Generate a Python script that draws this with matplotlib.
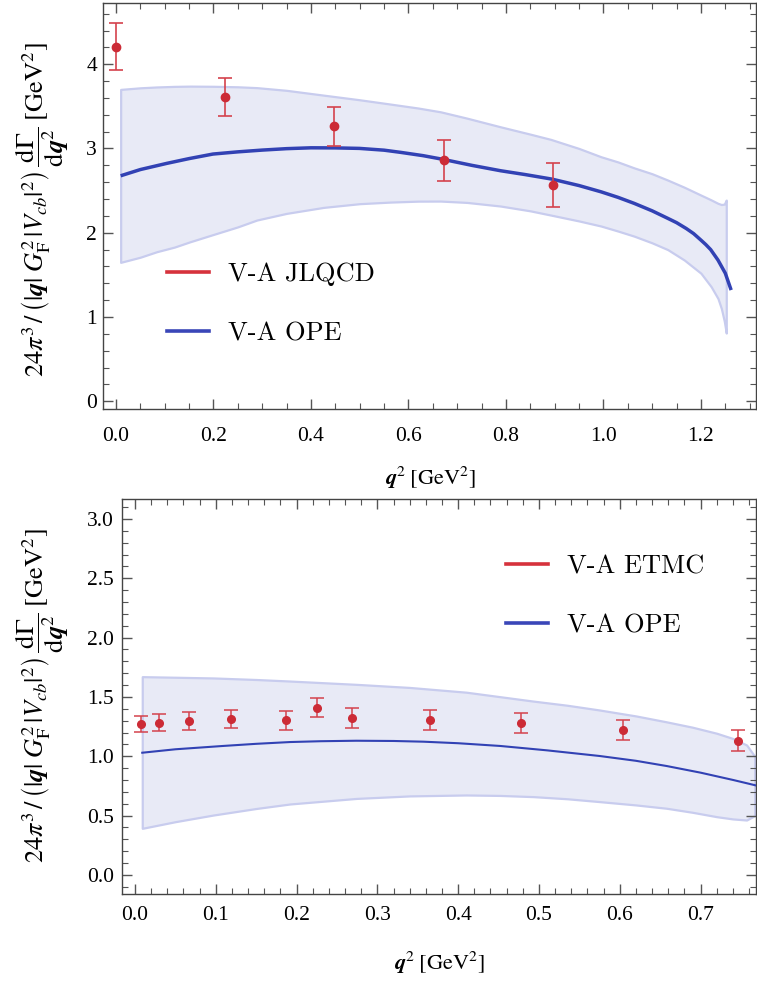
import matplotlib
matplotlib.use("Agg")
import matplotlib.pyplot as plt
from matplotlib.ticker import MultipleLocator, FormatStrFormatter
from matplotlib.lines import Line2D

plt.rcParams['font.family'] = ['Liberation Serif', 'DejaVu Serif']
plt.rcParams['mathtext.fontset'] = 'stix'

# ---------------- top panel data (JLQCD) ----------------
top_pts_x = [0.0, 0.224, 0.448, 0.672, 0.896]
top_pts_y = [4.21, 3.61, 3.262, 2.859, 2.562]
top_pts_err = [0.28, 0.23, 0.235, 0.245, 0.26]

top_curve_x = [0.0096, 0.05, 0.104, 0.15, 0.199, 0.25, 0.30, 0.35, 0.40, 0.45, 0.4995,
               0.55, 0.584, 0.63, 0.671, 0.73, 0.789, 0.84, 0.894, 0.95, 0.995, 1.03,
               1.063, 1.10, 1.132, 1.15, 1.17, 1.185, 1.20, 1.21, 1.22, 1.235, 1.25, 1.262]
top_curve_y = [2.676, 2.75, 2.823, 2.88, 2.934, 2.96, 2.981, 2.998, 3.008, 3.007, 3.001,
               2.98, 2.954, 2.915, 2.871, 2.80, 2.736, 2.69, 2.637, 2.56, 2.486, 2.42,
               2.349, 2.26, 2.171, 2.12, 2.05, 1.99, 1.913, 1.86, 1.80, 1.676, 1.52, 1.32]

top_band_x = [0.0096, 0.05, 0.0836, 0.12, 0.152, 0.2, 0.25, 0.289, 0.35, 0.426, 0.5,
              0.563, 0.62, 0.666, 0.72, 0.789, 0.85, 0.892, 0.95, 0.995, 1.03, 1.063,
              1.10, 1.132, 1.166, 1.20, 1.221, 1.235, 1.242, 1.248, 1.252]
top_band_hi = [3.701, 3.72, 3.73, 3.737, 3.740, 3.738, 3.732, 3.722, 3.69, 3.633, 3.578,
               3.527, 3.48, 3.435, 3.36, 3.257, 3.17, 3.108, 3.0, 2.902, 2.84, 2.77,
               2.70, 2.625, 2.54, 2.447, 2.39, 2.349, 2.335, 2.34, 2.388]
top_band_lo = [1.649, 1.71, 1.775, 1.83, 1.893, 1.98, 2.07, 2.151, 2.23, 2.301, 2.345,
               2.364, 2.375, 2.376, 2.36, 2.317, 2.26, 2.21, 2.14, 2.08, 2.02, 1.96,
               1.88, 1.80, 1.676, 1.52, 1.36, 1.22, 1.10, 0.95, 0.81]

# ---------------- bottom panel data (ETMC) ----------------
bot_pts_x = [0.0074, 0.0297, 0.0668, 0.119, 0.187, 0.225, 0.2686, 0.365, 0.4777, 0.604, 0.746]
bot_pts_y = [1.272, 1.283, 1.297, 1.311, 1.303, 1.41, 1.323, 1.309, 1.278, 1.221, 1.131]
bot_pts_err = [0.067, 0.07, 0.073, 0.076, 0.08, 0.078, 0.083, 0.085, 0.086, 0.088, 0.09]

bot_curve_x = [0.009, 0.05, 0.109, 0.15, 0.192, 0.23, 0.274, 0.32, 0.357, 0.40, 0.452,
               0.51, 0.575, 0.62, 0.658, 0.70, 0.7405, 0.77]
bot_curve_y = [1.03, 1.059, 1.087, 1.105, 1.12, 1.127, 1.131, 1.129, 1.123, 1.11, 1.087,
               1.05, 1.0025, 0.962, 0.918, 0.862, 0.80, 0.752]

bot_band_x = [0.009, 0.05, 0.097, 0.15, 0.1918, 0.2744, 0.34, 0.41, 0.452, 0.493,
              0.535, 0.575, 0.62, 0.658, 0.69, 0.72, 0.74, 0.757, 0.767]
bot_band_hi = [1.671, 1.666, 1.66, 1.647, 1.634, 1.606, 1.58, 1.54, 1.502, 1.465,
               1.43, 1.390, 1.34, 1.290, 1.245, 1.194, 1.15, 1.095, 1.0]
bot_band_lo = [0.393, 0.449, 0.505, 0.56, 0.598, 0.645, 0.666, 0.674, 0.670, 0.66,
               0.642, 0.618, 0.59, 0.562, 0.528, 0.491, 0.472, 0.463, 0.50]

legend_top = ['V-A JLQCD', 'V-A OPE']
legend_bot = ['V-A ETMC', 'V-A OPE']

RED = '#cc2b36'
RED_BAR = '#d4424d'
BLUE = '#3242b4'
BAND_FACE = '#e8eaf6'
BAND_EDGE = '#c8ccee'
LEG_RED = '#d6323c'
LEG_BLUE = '#3a46b8'

W, H = 757, 981
fig = plt.figure(figsize=(W / 100, H / 100), dpi=100)

def px_axes(l, t, r, b):
    return fig.add_axes([l / W, 1 - b / H, (r - l) / W, (b - t) / H])

ax1 = px_axes(103.3, 2.7, 756, 409.3)
ax2 = px_axes(122.3, 499, 756, 894.3)

ylabel = (r'$24\pi^3\,/\,\left(|\mathbfit{q}|\;G_{\mathrm{F}}^2\,|V_{cb}|^2\right)\,'
          r'\dfrac{\mathrm{d}\Gamma}{\mathrm{d}\mathbfit{q}^2}\;\left[\mathrm{GeV}^2\right]$')
xlabel = r'$\mathbfit{q}^2\;\left[\mathrm{GeV}^2\right]$'

def style(ax, xpad, ypad):
    for s in ax.spines.values():
        s.set_color('#444444')
        s.set_linewidth(1.0)
    ax.tick_params(which='both', direction='in', top=True, right=True, colors='#555555',
                   labelcolor='black', labelsize=15.5)
    ax.tick_params(which='major', length=7, width=1.0)
    ax.tick_params(which='minor', length=4, width=0.8)
    ax.tick_params(axis='x', pad=xpad)
    ax.tick_params(axis='y', pad=ypad)

# ---- top ----
ax1.fill_between(top_band_x, top_band_lo, top_band_hi, facecolor=BAND_FACE,
                 edgecolor=BAND_EDGE, linewidth=1.6, zorder=1)
ax1.plot(top_curve_x, top_curve_y, color=BLUE, lw=2.5, zorder=3, solid_capstyle='butt')
ax1.errorbar(top_pts_x, top_pts_y, yerr=top_pts_err, fmt='none', ecolor=RED_BAR,
             elinewidth=1.2, capsize=5, capthick=1.2, zorder=4)
ax1.plot(top_pts_x, top_pts_y, 'o', color=RED, ms=6, zorder=5)
ax1.set_xlim(-0.026, 1.313)
ax1.set_ylim(-0.095, 4.73)
ax1.xaxis.set_major_locator(MultipleLocator(0.2))
ax1.xaxis.set_minor_locator(MultipleLocator(0.05))
ax1.yaxis.set_major_locator(MultipleLocator(1))
ax1.yaxis.set_minor_locator(MultipleLocator(0.2))
ax1.xaxis.set_major_formatter(FormatStrFormatter('%.1f'))
ax1.yaxis.set_major_formatter(FormatStrFormatter('%d'))
style(ax1, 13, 4.5)

# ---- bottom ----
ax2.fill_between(bot_band_x, bot_band_lo, bot_band_hi, facecolor=BAND_FACE,
                 edgecolor=BAND_EDGE, linewidth=1.6, zorder=1)
ax2.plot(bot_curve_x, bot_curve_y, color=BLUE, lw=1.5, zorder=3)
ax2.errorbar(bot_pts_x, bot_pts_y, yerr=bot_pts_err, fmt='none', ecolor=RED_BAR,
             elinewidth=1.1, capsize=4.8, capthick=1.1, zorder=4)
ax2.plot(bot_pts_x, bot_pts_y, 'o', color=RED, ms=5.5, zorder=5)
ax2.set_xlim(-0.0157, 0.7686)
ax2.set_ylim(-0.163, 3.168)
ax2.xaxis.set_major_locator(MultipleLocator(0.1))
ax2.xaxis.set_minor_locator(MultipleLocator(0.02))
ax2.yaxis.set_major_locator(MultipleLocator(0.5))
ax2.yaxis.set_minor_locator(MultipleLocator(0.1))
ax2.xaxis.set_major_formatter(FormatStrFormatter('%.1f'))
ax2.yaxis.set_major_formatter(FormatStrFormatter('%.1f'))
style(ax2, 8.5, 6)

# axis labels
fig.text(42 / W, 1 - 210 / H, ylabel, rotation=90, ha='center', va='center', fontsize=19)
fig.text(42 / W, 1 - 696 / H, ylabel, rotation=90, ha='center', va='center', fontsize=19)
fig.text(430 / W, 1 - 478 / H, xlabel, ha='center', va='center', fontsize=16)
fig.text(439 / W, 1 - 963 / H, xlabel, ha='center', va='center', fontsize=16)

# legends
def add_legend(ax, labels, x_px, y_px):
    handles = [Line2D([], [], color=LEG_RED, lw=2.6), Line2D([], [], color=LEG_BLUE, lw=2.6)]
    ax.legend(handles, labels, loc='center left', bbox_to_anchor=(x_px / W, 1 - y_px / H),
              bbox_transform=fig.transFigure, frameon=False, borderpad=0, borderaxespad=0,
              handlelength=1.6, handletextpad=0.7, labelspacing=1.35,
              prop={'family': 'cmr10', 'size': 19})

add_legend(ax1, legend_top, 167, 304)
add_legend(ax2, legend_bot, 506, 596)

fig.savefig('out.png', dpi=100)
